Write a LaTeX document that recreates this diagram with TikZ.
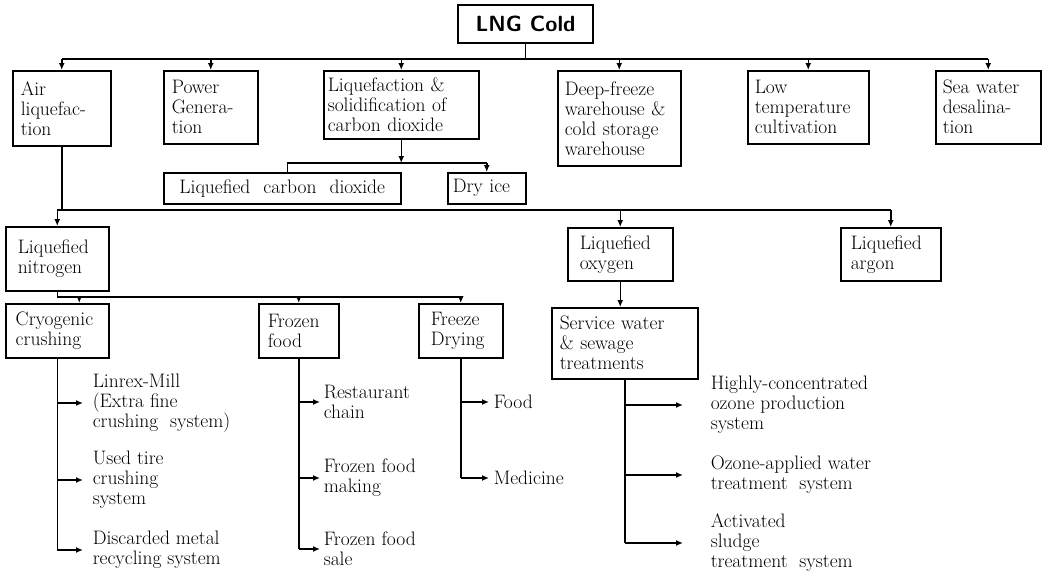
\documentclass[tikz,border=0pt]{standalone}
\usepackage{fontspec}
\usetikzlibrary{arrows.meta}

\begin{document}
\begin{tikzpicture}[x=1pt, y=-1pt, line width=1.5pt,
        box/.style={draw, anchor=north west, align=left, inner xsep=8pt, inner ysep=3pt},
        leaf/.style={anchor=west, align=left, inner sep=0pt},
        arr/.style={-{Latex[length=7pt, width=6pt]}},
        font=\fontsize{19.5}{20}\selectfont]
    \useasboundingbox (0, 0) rectangle (1050, 574);

    % top
    \node[draw, minimum width=135pt, minimum height=38pt, font=\sffamily\bfseries\fontsize{22}{24}\selectfont] (lng) at (525.5, 24) {LNG Cold};

    % first row
    \node[box, text width=82pt, minimum height=75pt] (air) at (12, 70) {Air\\liquefac-\\tion};
    \node[box, text width=78pt, minimum height=73pt] (power) at (163, 70) {Power\\Genera-\\tion};
    \node[box, inner xsep=4pt, text width=147pt, minimum height=68pt] (co2) at (323, 70) {Liquefaction \&\\solidification of\\carbon dioxide};
    \node[box, inner xsep=7pt, text width=109pt, minimum height=95pt] (deep) at (557, 70) {Deep-freeze\\warehouse \&\\cold storage\\warehouse};
    \node[box, inner xsep=7pt, text width=107pt, minimum height=73pt] (low) at (747, 70) {Low\\temperature\\cultivation};
    \node[box, inner xsep=7pt, text width=91pt, minimum height=73pt] (sea) at (935, 70) {Sea water\\desalina-\\tion};

    % carbon dioxide products
    \node[box, align=center, inner xsep=6pt, text width=225pt, minimum height=31pt] (lco2) at (163, 172) {Liquefied\ \ carbon\ \ dioxide};
    \node[box, inner xsep=5pt, text width=68pt, minimum height=31pt] (dry) at (447, 172) {Dry ice};

    % air products
    \node[box, inner xsep=12pt, text width=79pt, minimum height=64pt] (ln2) at (5, 226) {Liquefied\\nitrogen};
    \node[box, inner xsep=12pt, text width=81pt, minimum height=53pt] (lo2) at (567, 227) {Liquefied\\oxygen};
    \node[box, inner xsep=10pt, text width=80pt, minimum height=53pt] (lar) at (840, 227) {Liquefied\\argon};

    % nitrogen and oxygen uses
    \node[box, inner xsep=10pt, text width=83pt, minimum height=54pt] (cryo) at (5, 303) {Cryogenic\\crushing};
    \node[box, inner xsep=9pt, text width=62pt, minimum height=54pt] (frozen) at (258, 303) {Frozen\\food};
    \node[box, inner xsep=12pt, text width=60pt, minimum height=54pt] (fdry) at (418, 303) {Freeze\\Drying};
    \node[box, inner xsep=8pt, text width=130pt, minimum height=71pt] (serv) at (551, 307) {Service water\\\& sewage\\treatments};

    % leaves
    \node[leaf] (linrex) at (92, 403) {Linrex-Mill\\(Extra fine\\crushing\ \ system)};
    \node[leaf] (tire) at (92, 480) {Used tire\\crushing\\system};
    \node[leaf] (metal) at (92, 550) {Discarded metal\\recycling system};
    \node[leaf] (rest) at (323, 402) {Restaurant\\chain};
    \node[leaf] (ffmake) at (323, 478) {Frozen food\\making};
    \node[leaf] (ffsale) at (323, 549) {Frozen food\\sale};
    \node[leaf] (food) at (493, 402) {Food};
    \node[leaf] (med) at (493, 478) {Medicine};
    \node[leaf] (ozone) at (710, 405) {Highly-concentrated\\ozone production\\system};
    \node[leaf] (owater) at (710, 475) {Ozone-applied water\\treatment\ \ system};
    \node[leaf] (sludge) at (710, 543) {Activated\\sludge\\treatment\ \ system};

    % bus lines
    \coordinate (bus1) at (0, 59);
    \coordinate (bus2) at (0, 163);
    \coordinate (bus3) at (0, 210);
    \coordinate (bus4) at (0, 297);

    % LNG Cold to first row
    \draw (lng.south) -- (lng.south |- bus1);
    \draw (air.north |- bus1) -- (sea.north |- bus1);
    \draw[arr] (air.north |- bus1) -- (air.north);
    \draw[arr] (power.north |- bus1) -- (power.north);
    \draw[arr] (co2.north |- bus1) -- (co2.north);
    \draw[arr] (deep.north |- bus1) -- (deep.north);
    \draw[arr] (low.north |- bus1) -- (low.north);
    \draw[arr] (sea.north |- bus1) -- (sea.north);

    % carbon dioxide
    \draw[arr] (co2.south) -- (co2.south |- bus2);
    \draw ([xshift=5pt]lco2.north |- bus2) -- (dry.north |- bus2);
    \draw ([xshift=5pt]lco2.north |- bus2) -- ([xshift=5pt]lco2.north);
    \draw[arr] (dry.north |- bus2) -- (dry.north);

    % air liquefaction
    \draw (air.south) -- (air.south |- bus3);
    \draw (ln2.north |- bus3) -- (lar.north |- bus3);
    \draw[arr] (ln2.north |- bus3) -- (ln2.north);
    \draw[arr] (lo2.north |- bus3) -- (lo2.north);
    \draw[arr] (lar.north |- bus3) -- (lar.north);
    \draw[arr] (lo2.south) -- (lo2.south |- serv.north);

    % liquefied nitrogen
    \draw (ln2.south) -- (ln2.south |- bus4) -- (fdry.north |- bus4);
    \draw[arr] ([xshift=22pt]cryo.north |- bus4) -- ([xshift=22pt]cryo.north);
    \draw[arr] (frozen.north |- bus4) -- (frozen.north);
    \draw[arr] (fdry.north |- bus4) -- (fdry.north);

    % cryogenic crushing
    \draw (cryo.south) -- (cryo.south |- metal.west);
    \draw[arr] (cryo.south |- linrex.west) -- ([xshift=-9pt]linrex.west);
    \draw[arr] (cryo.south |- tire.west) -- ([xshift=-9pt]tire.west);
    \draw[arr] (cryo.south |- metal.west) -- ([xshift=-9pt]metal.west);

    % frozen food
    \draw (frozen.south) -- (frozen.south |- ffsale.west);
    \draw[arr] (frozen.south |- rest.west) -- ([xshift=-3pt]rest.west);
    \draw[arr] (frozen.south |- ffmake.west) -- ([xshift=-3pt]ffmake.west);
    \draw[arr] (frozen.south |- ffsale.west) -- ([xshift=-3pt]ffsale.west);

    % freeze drying
    \draw (fdry.south) -- (fdry.south |- med.west);
    \draw[arr] (fdry.south |- food.west) -- ([xshift=-4pt]food.west);
    \draw[arr] (fdry.south |- med.west) -- ([xshift=-4pt]med.west);

    % water treatment
    \draw (serv.south) -- (serv.south |- sludge.west);
    \draw[arr] (serv.south |- ozone.west) -- ([xshift=-27pt]ozone.west);
    \draw[arr] (serv.south |- owater.west) -- ([xshift=-27pt]owater.west);
    \draw[arr] (serv.south |- sludge.west) -- ([xshift=-27pt]sludge.west);
\end{tikzpicture}
\end{document}
